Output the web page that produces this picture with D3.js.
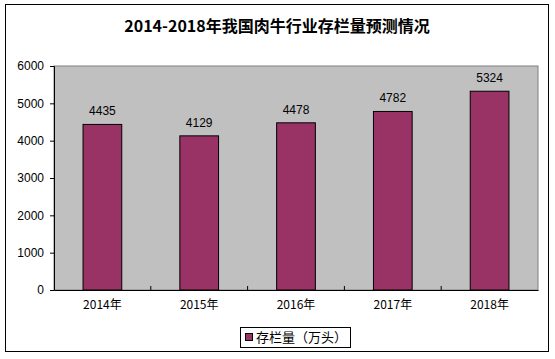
<!DOCTYPE html>
<html><head><meta charset="utf-8">
<script src="https://cdn.jsdelivr.net/npm/d3@7"></script>
<style>body{margin:0;background:#fff}svg{display:block}</style>
</head><body>
<svg id="c" width="555" height="359"></svg>
<script>
const categories = ["2014年","2015年","2016年","2017年","2018年"];
const values = [4435, 4129, 4478, 4782, 5324];
const yTicks = [0,1000,2000,3000,4000,5000,6000];
const title = "2014-2018年我国肉牛行业存栏量预测情况";
const seriesName = "存栏量（万头）";

const svg = d3.select("#c");
const L = 54, R = 538, T = 66, B = 290;
const cjk = "'Noto Sans CJK SC', sans-serif";
const latin = "'Liberation Sans', Arial, sans-serif";

svg.append("rect").attr("x",5.5).attr("y",4.5).attr("width",543).attr("height",347)
  .attr("fill","#fff").attr("stroke","#000").attr("stroke-width",1);

svg.append("text").attr("x",277).attr("y",32).attr("text-anchor","middle")
  .attr("font-family",cjk).attr("font-weight","bold").attr("font-size",16).text(title);

const x = d3.scaleBand().domain(categories).range([L,R]).paddingInner(0.6).paddingOuter(0.3);
const xb = d3.scaleBand().domain(categories).range([L,R]);
const y = d3.scaleLinear().domain([0,6000]).range([B,T]);

svg.append("rect").attr("x",L).attr("y",T).attr("width",R-L).attr("height",B-T)
  .attr("fill","#c0c0c0").attr("stroke","#808080").attr("stroke-width",1);

svg.selectAll("rect.bar").data(values).enter().append("rect").attr("class","bar")
  .attr("x",(d,i)=>x(categories[i])).attr("width",x.bandwidth())
  .attr("y",d=>y(d)).attr("height",d=>B-y(d))
  .attr("fill","#993366").attr("stroke","#000").attr("stroke-width",1);

svg.selectAll("text.val").data(values).enter().append("text").attr("class","val")
  .attr("x",(d,i)=>x(categories[i])+x.bandwidth()/2).attr("y",d=>y(d)-9)
  .attr("text-anchor","middle").attr("font-family",latin).attr("font-size",12).text(d=>d);

// y axis
const ya = svg.append("g").attr("transform",`translate(${L},0)`)
  .call(d3.axisLeft(y).tickValues(yTicks).tickSize(4).tickFormat(d3.format("d")));
ya.select(".domain").attr("stroke","#000");
ya.selectAll("text").attr("font-family",latin).attr("font-size",12).attr("fill","#000").attr("x",-10);

// x axis
const xa = svg.append("g").attr("transform",`translate(0,${B})`)
  .call(d3.axisBottom(xb).tickSize(0).tickSizeOuter(0));
xa.select(".domain").attr("stroke","#000");
xa.selectAll("text").attr("font-family",cjk).attr("font-size",12).attr("fill","#000").attr("dy","1.3em");
svg.append("g").selectAll("line").data(categories.slice(1)).enter().append("line")
  .attr("x1",d=>xb(d)).attr("x2",d=>xb(d)).attr("y1",B).attr("y2",B-4).attr("stroke","#000");

// legend
const lg = svg.append("g");
lg.append("rect").attr("x",240.5).attr("y",327.5).attr("width",110).attr("height",20)
  .attr("fill","#fff").attr("stroke","#000");
lg.append("rect").attr("x",245.5).attr("y",333.5).attr("width",7).attr("height",7)
  .attr("fill","#993366").attr("stroke","#000");
lg.append("text").attr("x",256).attr("y",342).attr("font-family",cjk).attr("font-size",13).text(seriesName);
</script>
</body></html>
